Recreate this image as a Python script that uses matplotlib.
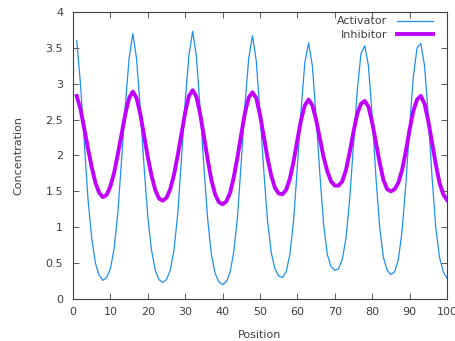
import numpy as np
import matplotlib
matplotlib.use("Agg")
import matplotlib.pyplot as plt

position = np.arange(1, 101)

activator = [
    3.60, 3.00, 2.20, 1.40, 0.85, 0.50, 0.33, 0.26,
    0.30, 0.42, 0.70, 1.20, 1.95, 2.70, 3.35, 3.70,
    3.35, 2.65, 1.85, 1.15, 0.68, 0.40, 0.27, 0.23,
    0.27, 0.40, 0.68, 1.18, 1.95, 2.75, 3.40, 3.73,
    3.38, 2.65, 1.85, 1.12, 0.62, 0.36, 0.24, 0.20,
    0.24, 0.37, 0.66, 1.15, 1.92, 2.72, 3.36, 3.67,
    3.32, 2.60, 1.80, 1.10, 0.65, 0.42, 0.32, 0.30,
    0.38, 0.62, 1.10, 1.85, 2.65, 3.30, 3.57,
    3.25, 2.55, 1.75, 1.05, 0.62, 0.45, 0.40, 0.42,
    0.55, 0.85, 1.40, 2.15, 2.90, 3.42, 3.53,
    3.25, 2.55, 1.70, 1.00, 0.58, 0.40, 0.34,
    0.38, 0.55, 0.95, 1.60, 2.40, 3.10, 3.50, 3.56,
    3.25, 2.55, 1.70, 1.00, 0.58, 0.38, 0.29,
]

inhibitor = [
    2.83, 2.65, 2.38, 2.10, 1.84, 1.62, 1.48, 1.42,
    1.45, 1.57, 1.76, 2.02, 2.30, 2.58, 2.80, 2.89,
    2.80, 2.58, 2.28, 1.98, 1.72, 1.52, 1.40, 1.37,
    1.41, 1.53, 1.73, 2.00, 2.30, 2.60, 2.83, 2.91,
    2.82, 2.58, 2.27, 1.95, 1.66, 1.46, 1.35, 1.32,
    1.36, 1.48, 1.70, 1.98, 2.30, 2.60, 2.81, 2.88,
    2.80, 2.57, 2.27, 1.97, 1.72, 1.55, 1.47, 1.46,
    1.52, 1.68, 1.92, 2.22, 2.50, 2.70, 2.78,
    2.70, 2.50, 2.24, 1.98, 1.78, 1.64, 1.58, 1.58,
    1.64, 1.80, 2.05, 2.33, 2.58, 2.72, 2.76,
    2.68, 2.46, 2.18, 1.90, 1.66, 1.53, 1.50,
    1.53, 1.62, 1.80, 2.06, 2.36, 2.62, 2.78, 2.83,
    2.72, 2.48, 2.18, 1.88, 1.62, 1.46, 1.38,
]

plt.rcParams['font.family'] = 'DejaVu Sans'
plt.rcParams['text.color'] = '#404040'

fig = plt.figure(figsize=(4.55, 3.41), dpi=100)
ax = fig.add_axes([0.1604, 0.1232, 0.822, 0.8416])

ax.plot(position, activator, color='#1f8ff0', lw=0.9, label='Activator')
ax.plot(position, inhibitor, color='#bf00ff', lw=2.8, label='Inhibitor')

ax.set_xlim(0, 100)
ax.set_ylim(0, 4)
ax.set_xticks(np.arange(0, 101, 10))
ax.set_yticks(np.arange(0, 4.01, 0.5))
ax.set_yticklabels(['0', '0.5', '1', '1.5', '2', '2.5', '3', '3.5', '4'])

ax.tick_params(direction='in', top=True, right=True, length=4, width=0.6,
               labelsize=8, labelcolor='#404040', color='#404040')
ax.tick_params(axis='x', pad=6)
ax.tick_params(axis='y', pad=7)
for s in ax.spines.values():
    s.set_linewidth(0.8)
    s.set_color('#404040')

ax.set_xlabel('Position', fontsize=8, color='#404040', labelpad=9)
ax.set_ylabel('Concentration', fontsize=8, color='#404040', labelpad=16)

ax.legend(loc='upper right', frameon=False, markerfirst=False, fontsize=8,
          handlelength=3.3, borderaxespad=0.0, labelspacing=0.3,
          bbox_to_anchor=(0.975, 1.0))

fig.savefig('out.png', dpi=100)
